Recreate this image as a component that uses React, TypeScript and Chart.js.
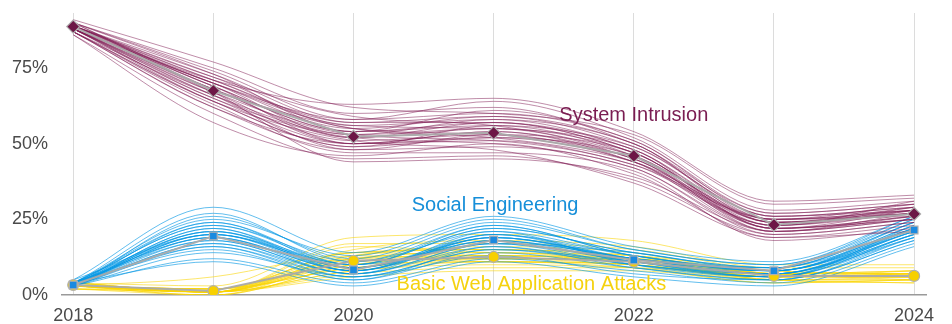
import React, { useEffect, useRef } from "react";
import { Chart, registerables } from "chart.js";

Chart.register(...registerables);

const years = [2018, 2019, 2020, 2021, 2022, 2023, 2024];
const yTicks = [0, 25, 50, 75];

const systemIntrusion = [88.7, 67.5, 52.3, 53.6, 46, 23.2, 26.8];
const socialEngineering = [3.3, 19.5, 8.3, 18.2, 11.6, 8, 21.5];
const basicWeb = [3.3, 1.3, 11.3, 12.6, 11, 6.3, 6.3];

const systemIntrusionDraws = [
  [89, 72, 56, 58, 48, 25, 28],
  [88, 65, 50, 52, 44, 22, 26],
  [90, 75, 60, 62, 50, 27, 30],
  [87, 62, 48, 49, 42, 20, 24],
  [89, 69, 54, 57, 47, 24, 27],
  [88, 70, 52, 55, 45, 23, 29],
  [86, 57, 46, 50, 40, 19, 23],
  [90, 74, 58, 64, 52, 28, 31],
  [88, 66, 51, 53, 47, 22, 25],
  [89, 68, 55, 52, 44, 25, 27],
  [87, 64, 49, 56, 46, 21, 26],
  [91, 77, 62, 60, 53, 30, 32],
  [88, 67, 53, 51, 43, 23, 28],
  [89, 71, 57, 59, 49, 26, 29],
  [87, 63, 47, 47, 41, 18, 22],
  [88, 69, 50, 54, 45, 24, 27],
  [90, 73, 54, 61, 51, 27, 30],
  [88, 65, 52, 50, 42, 21, 25],
  [89, 70, 56, 55, 48, 22, 28],
  [86, 60, 45, 46, 38, 20, 24],
  [89, 72, 59, 56, 46, 25, 26],
  [88, 66, 48, 53, 44, 23, 31],
  [90, 68, 53, 58, 50, 24, 27],
  [87, 64, 51, 48, 37, 19, 21],
  [89, 71, 63, 65, 54, 31, 33],
  [88, 67, 44, 45, 39, 21, 25],
  [89, 70, 58, 60, 51, 26, 29],
  [88, 68, 52, 57, 48, 24, 28],
  [87, 66, 53, 55, 47, 23, 27],
  [89, 71, 55, 53, 45, 22, 26],
  [88, 67, 50, 51, 43, 25, 30],
  [90, 69, 54, 56, 49, 26, 28],
  [88, 64, 49, 52, 46, 22, 25],
  [89, 73, 57, 57, 47, 24, 29],
  [87, 62, 50, 54, 44, 21, 27],
  [88, 70, 55, 59, 50, 25, 28],
];

const socialEngineeringDraws = [
  [3, 22, 9, 20, 13, 8, 23],
  [4, 18, 7, 16, 10, 6, 20],
  [3, 26, 12, 24, 15, 10, 25],
  [4, 15, 5, 14, 9, 5, 18],
  [3, 20, 8, 19, 12, 7, 22],
  [5, 29, 14, 26, 16, 11, 26],
  [3, 17, 6, 15, 11, 7, 19],
  [4, 24, 10, 22, 14, 9, 24],
  [3, 12, 4, 12, 8, 4, 17],
  [4, 21, 9, 18, 12, 8, 21],
  [3, 19, 8, 21, 10, 6, 23],
  [4, 27, 11, 23, 13, 9, 22],
  [3, 14, 6, 13, 7, 5, 18],
  [4, 23, 10, 17, 14, 8, 24],
  [3, 18, 7, 20, 11, 7, 20],
  [4, 25, 13, 25, 15, 10, 26],
  [3, 16, 5, 16, 9, 5, 19],
  [5, 20, 9, 18, 12, 8, 21],
  [3, 22, 8, 19, 11, 6, 22],
  [4, 11, 3, 11, 6, 3, 16],
  [3, 21, 10, 22, 14, 9, 25],
  [4, 19, 7, 17, 10, 7, 20],
  [4, 20, 9, 19, 12, 7, 21],
  [3, 21, 8, 18, 11, 8, 22],
  [4, 23, 11, 21, 13, 8, 23],
  [3, 17, 7, 17, 11, 6, 20],
  [4, 19, 8, 20, 12, 7, 21],
  [3, 24, 9, 19, 12, 9, 24],
  [4, 16, 6, 15, 10, 6, 19],
  [3, 20, 10, 23, 13, 8, 22],
];

const basicWebDraws = [
  [3, 1, 11, 13, 12, 6, 6],
  [3, 2, 14, 15, 13, 7, 7],
  [4, 1, 8, 10, 9, 5, 5],
  [3, 0, 12, 14, 11, 6, 8],
  [2, 1, 17, 17, 15, 8, 7],
  [3, 2, 9, 11, 10, 5, 4],
  [4, 1, 13, 12, 12, 7, 6],
  [3, 1, 6, 8, 8, 4, 5],
  [3, 2, 15, 18, 16, 9, 9],
  [2, 0, 10, 13, 11, 6, 6],
  [3, 1, 12, 11, 10, 6, 7],
  [4, 3, 19, 20, 18, 10, 10],
  [3, 1, 11, 12, 12, 5, 5],
  [3, 1, 7, 9, 9, 5, 4],
  [2, 2, 13, 16, 14, 7, 8],
  [3, 0, 10, 12, 10, 6, 6],
  [4, 1, 16, 14, 13, 8, 7],
  [3, 1, 8, 11, 9, 4, 5],
  [3, 6, 14, 15, 12, 7, 6],
  [3, 1, 12, 13, 11, 6, 7],
  [3, 1, 12, 14, 12, 7, 7],
  [3, 2, 11, 12, 11, 6, 6],
  [4, 1, 13, 15, 13, 7, 8],
  [3, 1, 10, 11, 10, 5, 6],
  [2, 1, 14, 13, 12, 6, 7],
  [3, 2, 9, 12, 11, 7, 5],
];

const seriesLabels = [
  { text: "System Intrusion", x: 2022.0, y: 59.4, color: "#7a1d52" },
  { text: "Social Engineering", x: 2021.01, y: 29.7, color: "#168fd9" },
  { text: "Basic Web Application Attacks", x: 2021.27, y: 3.6, color: "#f5d20f" },
];

const FONT = "'Liberation Sans', Arial, Helvetica, sans-serif";

const toPoints = (vals: number[]) => vals.map((v, i) => ({ x: years[i], y: v }));

export default function App() {
  const ref = useRef<HTMLCanvasElement | null>(null);

  useEffect(() => {
    document.body.style.margin = "0";
    document.body.style.overflow = "hidden";
    const canvas = ref.current;
    if (!canvas) return;

    const spaghetti = (draws: number[][], color: string, order: number) =>
      draws.map((d) => ({
        data: toPoints(d),
        borderColor: color,
        borderWidth: 1,
        pointRadius: 0,
        fill: false,
        cubicInterpolationMode: "monotone" as const,
        order,
      }));

    const mainLine = (vals: number[], bg: string, style: string, radius: number) => ({
      data: toPoints(vals),
      borderColor: "rgba(170,170,170,0.95)",
      borderWidth: 2,
      tension: 0,
      pointStyle: style,
      pointRadius: radius,
      pointBackgroundColor: bg,
      pointBorderColor: "#b0b0b0",
      pointBorderWidth: 1.2,
      fill: false,
      order: 0,
    });

    const labelPlugin = {
      id: "seriesLabels",
      afterDatasetsDraw(chart: any) {
        const ctx = chart.ctx;
        const xs = chart.scales.x;
        const ys = chart.scales.y;
        ctx.save();
        ctx.font = `20px ${FONT}`;
        ctx.textAlign = "center";
        ctx.textBaseline = "middle";
        for (const l of seriesLabels) {
          ctx.fillStyle = l.color;
          ctx.fillText(l.text, xs.getPixelForValue(l.x), ys.getPixelForValue(l.y));
        }
        ctx.restore();
      },
    };

    const chart = new Chart(canvas, {
      type: "line",
      data: {
        datasets: [
          mainLine(systemIntrusion, "#6d1746", "rectRot", 6.5),
          mainLine(socialEngineering, "#1a8ae0", "rect", 5.5),
          mainLine(basicWeb, "#f7d000", "circle", 5.5),
          ...spaghetti(systemIntrusionDraws, "rgba(128,28,84,0.5)", 10),
          ...spaghetti(socialEngineeringDraws, "rgba(0,150,228,0.62)", 20),
          ...spaghetti(basicWebDraws, "rgba(250,212,0,0.58)", 30),
        ] as any,
      },
      options: {
        animation: false,
        responsive: false,
        maintainAspectRatio: false,
        layout: { padding: { top: 13, right: 26, left: 0, bottom: 0 } },
        plugins: { legend: { display: false }, tooltip: { enabled: false } },
        scales: {
          x: {
            type: "linear",
            min: 2017.92,
            max: 2024.085,
            afterBuildTicks: (s: any) => {
              s.ticks = years.map((v) => ({ value: v }));
            },
            afterFit: (s: any) => {
              s.height = 29;
              s.paddingLeft = 0;
              s.paddingRight = 0;
            },
            grid: { color: "#dcdcdc", lineWidth: 1, drawTicks: false },
            border: { display: true, color: "#9a9a9a", width: 1.5 },
            ticks: {
              autoSkip: false,
              maxRotation: 0,
              padding: 10,
              color: "#4a4a4a",
              font: { family: FONT, size: 18 },
              callback: (v: any) => (Number(v) % 2 === 0 ? String(v) : ""),
            },
          },
          y: {
            type: "linear",
            min: 0,
            max: 93.2,
            afterBuildTicks: (s: any) => {
              s.ticks = yTicks.map((v) => ({ value: v }));
            },
            afterFit: (s: any) => {
              s.width = 62;
              s.paddingTop = 0;
              s.paddingBottom = 0;
            },
            grid: { display: false, drawTicks: false },
            border: { display: false },
            ticks: {
              padding: 14,
              color: "#4a4a4a",
              font: { family: FONT, size: 18 },
              callback: (v: any) => `${v}%`,
            },
          },
        },
      },
      plugins: [labelPlugin],
    } as any);

    return () => chart.destroy();
  }, []);

  return (
    <div style={{ width: 952, height: 324 }}>
      <canvas ref={ref} width={952} height={324} style={{ display: "block", width: 952, height: 324 }} />
    </div>
  );
}
